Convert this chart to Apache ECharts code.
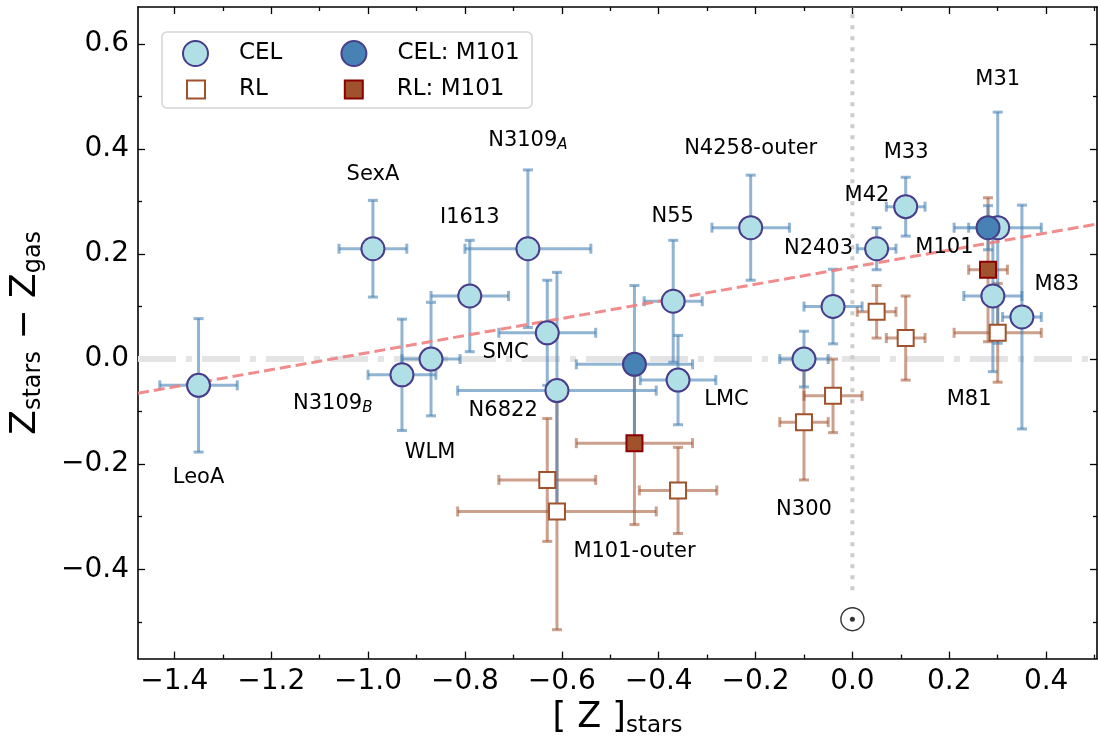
<!DOCTYPE html>
<html>
<head>
<meta charset="utf-8">
<script src="https://cdn.jsdelivr.net/npm/echarts@6/dist/echarts.min.js"></script>
<style>
  html, body { margin: 0; padding: 0; background: #fff; }
  #chart { width: 1098px; height: 743px; }
</style>
</head>
<body>
<div id="chart"></div>
<script>
const FONT = 'DejaVu Sans';

// axis ranges and ticks
const xRange = [-1.475, 0.505];
const yRange = [-0.57, 0.67];
const xTicks = [-1.4, -1.2, -1.0, -0.8, -0.6, -0.4, -0.2, 0.0, 0.2, 0.4];
const xMinorTicks = [-1.3, -1.1, -0.9, -0.7, -0.5, -0.3, -0.1, 0.1, 0.3, 0.5];
const yTicks = [-0.4, -0.2, 0.0, 0.2, 0.4, 0.6];
const yMinorTicks = [-0.5, -0.3, -0.1, 0.1, 0.3, 0.5];

// CEL (light circles)
const celX    = [-1.35, -0.99, -0.93, -0.87, -0.79, -0.67, -0.63, -0.61, -0.37, -0.36, -0.21, -0.10, -0.04, 0.05, 0.11, 0.30, 0.29, 0.35];
const celY    = [-0.05, 0.21, -0.03, 0.00, 0.12, 0.21, 0.05, -0.06, 0.11, -0.04, 0.25, 0.00, 0.10, 0.21, 0.29, 0.25, 0.12, 0.08];
const celXErr = [0.08, 0.07, 0.07, 0.06, 0.08, 0.13, 0.10, 0.205, 0.06, 0.078, 0.08, 0.05, 0.06, 0.04, 0.04, 0.09, 0.06, 0.04];
const celYErr = [0.127, 0.092, 0.106, 0.108, 0.106, 0.15, 0.10, 0.225, 0.116, 0.085, 0.10, 0.053, 0.071, 0.04, 0.056, 0.22, 0.144, 0.213];

// CEL: M101
const celM101X    = [-0.45, 0.28];
const celM101Y    = [-0.01, 0.25];
const celM101XErr = [0.12, 0.04];
const celM101YErr = [0.15, 0.042];

// RL (open squares)
const rlX    = [-0.63, -0.61, -0.36, -0.10, -0.04, 0.05, 0.11, 0.30];
const rlY    = [-0.23, -0.29, -0.25, -0.12, -0.07, 0.09, 0.04, 0.05];
const rlXErr = [0.10, 0.205, 0.08, 0.05, 0.06, 0.04, 0.04, 0.09];
const rlYErr = [0.117, 0.225, 0.082, 0.11, 0.07, 0.05, 0.08, 0.094];

// RL: M101
const rlM101X    = [-0.45, 0.28];
const rlM101Y    = [-0.16, 0.17];
const rlM101XErr = [0.12, 0.04];
const rlM101YErr = [0.155, 0.137];

// galaxy name labels
const labelText = ['LeoA', 'SexA', 'I1613', 'N3109{sub|A}', 'N3109{sub|B}', 'WLM', 'SMC', 'N6822',
  'M101-outer', 'N55', 'LMC', 'N4258-outer', 'N300', 'N2403', 'M42', 'M33', 'M101', 'M31', 'M83', 'M81'];
const labelX = [-1.35, -0.99, -0.79, -0.67, -1.073, -0.872, -0.716, -0.721,
  -0.45, -0.371, -0.26, -0.21, -0.10, -0.07, 0.03, 0.111, 0.19, 0.30, 0.422, 0.241];
const labelY = [-0.226, 0.352, 0.27, 0.415, -0.085, -0.177, 0.012, -0.098,
  -0.367, 0.272, -0.077, 0.401, -0.286, 0.21, 0.311, 0.393, 0.212, 0.531, 0.142, -0.077];

// reference lines and fit
const fitX = [-1.475, 0.505];
const fitY = [-0.065, 0.257];
const zeroLineX = [-1.475, 0.505];
const solarLineY = [-0.44, 0.67];
const sunPos = [0.0, -0.495];

const zip = (a, b) => a.map((v, i) => [v, b[i]]);
const zip4 = (a, b, c, d) => a.map((v, i) => [v, b[i], c[i], d[i]]);

function errorBars(color) {
  return function (params, api) {
    const x = api.value(0), y = api.value(1), ex = api.value(2), ey = api.value(3);
    const l = api.coord([x - ex, y]);
    const r = api.coord([x + ex, y]);
    const t = api.coord([x, y + ey]);
    const b = api.coord([x, y - ey]);
    const cap = 5;
    const style = { stroke: color, lineWidth: 3, fill: null };
    const seg = (x1, y1, x2, y2) => ({ type: 'line', shape: { x1, y1, x2, y2 }, style });
    return {
      type: 'group',
      children: [
        seg(l[0], l[1], r[0], r[1]),
        seg(t[0], t[1], b[0], b[1]),
        seg(l[0], l[1] - cap, l[0], l[1] + cap),
        seg(r[0], r[1] - cap, r[0], r[1] + cap),
        seg(t[0] - cap, t[1], t[0] + cap, t[1]),
        seg(b[0] - cap, b[1], b[0] + cap, b[1])
      ]
    };
  };
}

const tickFmt = v => (v < 0 ? '\u2212' : '') + Math.abs(v).toFixed(1);

function axis(kind, position, ticks, len, opts) {
  const range = kind === 'x' ? xRange : yRange;
  return Object.assign({
    type: 'value',
    position: position,
    min: range[0],
    max: range[1],
    splitLine: { show: false },
    axisLine: { show: false, onZero: false, lineStyle: { color: '#000', width: 1.6 } },
    axisTick: { show: true, inside: true, length: len, customValues: ticks, lineStyle: { color: '#000', width: 1.3 } },
    axisLabel: { show: false }
  }, opts || {});
}

const mainLabel = {
  show: true,
  formatter: tickFmt,
  fontFamily: FONT,
  fontSize: 28,
  color: '#000'
};
const frameLine = { show: true, onZero: false, lineStyle: { color: '#000', width: 1.6 } };

const chart = echarts.init(document.getElementById('chart'));

const option = {
  animation: false,
  backgroundColor: '#fff',
  grid: { left: 137, right: 1, top: 7, bottom: 78, containLabel: false },
  xAxis: [
    axis('x', 'bottom', xTicks, 7, {
      axisLine: frameLine,
      axisLabel: Object.assign({}, mainLabel, { customValues: xTicks, margin: 9 }),
      name: '{b|[ Z ]}{s|stars}',
      nameLocation: 'middle',
      nameGap: 39,
      nameTextStyle: {
        fontFamily: FONT, color: '#000',
        rich: {
          b: { fontFamily: FONT, fontSize: 35, lineHeight: 40, color: '#000' },
          s: { fontFamily: FONT, fontSize: 23, lineHeight: 16, verticalAlign: 'bottom', color: '#000' }
        }
      }
    }),
    axis('x', 'bottom', xMinorTicks, 4),
    axis('x', 'top', xTicks, 7, { axisLine: frameLine }),
    axis('x', 'top', xMinorTicks, 4)
  ],
  yAxis: [
    axis('y', 'left', yTicks, 7, {
      axisLine: frameLine,
      axisLabel: Object.assign({}, mainLabel, { customValues: yTicks, margin: 9 }),
      name: '{z|Z}{s|stars}{z| \u2212 Z}{s|gas}',
      nameLocation: 'middle',
      nameRotate: 90,
      nameGap: 92,
      nameTextStyle: {
        fontFamily: FONT, color: '#000',
        rich: {
          z: { fontFamily: FONT, fontSize: 36, lineHeight: 40, color: '#000' },
          s: { fontFamily: FONT, fontSize: 24, lineHeight: 20, verticalAlign: 'bottom', color: '#000' }
        }
      }
    }),
    axis('y', 'left', yMinorTicks, 4),
    axis('y', 'right', yTicks, 7, { axisLine: frameLine }),
    axis('y', 'right', yMinorTicks, 4)
  ],
  legend: [
    {
      data: [{ name: 'CEL', icon: 'circle' }, { name: 'CEL: M101', icon: 'circle' }],
      left: 182, top: 40, padding: 0,
      itemWidth: 25, itemHeight: 25, itemGap: 58,
      selectedMode: false, z: 20,
      textStyle: { fontFamily: FONT, fontSize: 23, color: '#000', padding: [0, 0, 0, 26] }
    },
    {
      data: [{ name: 'RL', icon: 'rect' }, { name: 'RL: M101', icon: 'rect' }],
      left: 186, top: 78, padding: 0,
      itemWidth: 18, itemHeight: 18, itemGap: 76,
      selectedMode: false, z: 20,
      textStyle: { fontFamily: FONT, fontSize: 23, color: '#000', padding: [0, 0, 0, 29] }
    }
  ],
  graphic: [{
    type: 'rect', z: 15, silent: true,
    shape: { x: 162, y: 32, width: 370, height: 76, r: 5 },
    style: { fill: 'rgba(255,255,255,0.85)', stroke: '#d4d4d4', lineWidth: 1.5 }
  }],
  series: [
    {
      name: 'zero', type: 'line', z: 1, silent: true, symbol: 'none',
      data: zeroLineX.map(x => [x, 0]),
      lineStyle: { color: '#e4e4e4', width: 6, type: [38, 10, 6, 10] }
    },
    {
      name: 'solar', type: 'line', z: 1, silent: true, symbol: 'none',
      data: solarLineY.map(y => [0, y]),
      lineStyle: { color: '#cccccc', width: 4, type: [4, 7] }
    },
    {
      name: 'RL err', type: 'custom', z: 2, silent: true,
      renderItem: errorBars('rgba(160,82,45,0.55)'),
      encode: { x: 0, y: 1 },
      data: zip4(rlX, rlY, rlXErr, rlYErr).concat(zip4(rlM101X, rlM101Y, rlM101XErr, rlM101YErr))
    },
    {
      name: 'CEL err', type: 'custom', z: 3, silent: true,
      renderItem: errorBars('rgba(70,130,180,0.6)'),
      encode: { x: 0, y: 1 },
      data: zip4(celX, celY, celXErr, celYErr).concat(zip4(celM101X, celM101Y, celM101XErr, celM101YErr))
    },
    {
      name: 'fit', type: 'line', z: 4, silent: true, symbol: 'none',
      data: zip(fitX, fitY),
      lineStyle: { color: 'rgba(240,128,128,0.9)', width: 3, type: [11, 5] }
    },
    {
      name: 'sun', type: 'scatter', z: 4, silent: true,
      symbol: 'circle', symbolSize: 23,
      data: [sunPos],
      itemStyle: { color: '#fff', borderColor: '#000', borderWidth: 1.4 }
    },
    {
      name: 'sun dot', type: 'scatter', z: 4, silent: true,
      symbol: 'circle', symbolSize: 5,
      data: [sunPos],
      itemStyle: { color: '#000' }
    },
    {
      name: 'RL', type: 'scatter', z: 5,
      symbol: 'rect', symbolSize: 16,
      data: zip(rlX, rlY),
      itemStyle: { color: '#fff', borderColor: '#a0522d', borderWidth: 2, opacity: 1 }
    },
    {
      name: 'RL: M101', type: 'scatter', z: 6,
      symbol: 'rect', symbolSize: 16,
      data: zip(rlM101X, rlM101Y),
      itemStyle: { color: '#a0522d', borderColor: '#8b0000', borderWidth: 2, opacity: 1 }
    },
    {
      name: 'CEL', type: 'scatter', z: 7,
      symbol: 'circle', symbolSize: 23,
      data: zip(celX, celY),
      itemStyle: { color: '#b0e0e6', borderColor: '#483d8b', borderWidth: 2, opacity: 1 }
    },
    {
      name: 'CEL: M101', type: 'scatter', z: 8,
      symbol: 'circle', symbolSize: 23,
      data: zip(celM101X, celM101Y),
      itemStyle: { color: '#4682b4', borderColor: '#483d8b', borderWidth: 2, opacity: 1 }
    },
    {
      name: 'labels', type: 'scatter', z: 9, silent: true,
      symbol: 'circle', symbolSize: 1,
      itemStyle: { color: 'rgba(0,0,0,0)' },
      data: labelX.map((x, i) => [x, labelY[i], labelText[i]]),
      label: {
        show: true, position: 'inside', opacity: 1,
        formatter: p => p.data[2],
        fontFamily: FONT, fontSize: 21, lineHeight: 24, color: '#000000',
        textBorderWidth: 0,
        rich: {
          sub: { fontFamily: FONT, fontSize: 15, fontStyle: 'italic', lineHeight: 12, verticalAlign: 'bottom', color: '#000000' }
        }
      },
      labelLayout: { hideOverlap: false }
    }
  ]
};

chart.setOption(option);
</script>
</body>
</html>
